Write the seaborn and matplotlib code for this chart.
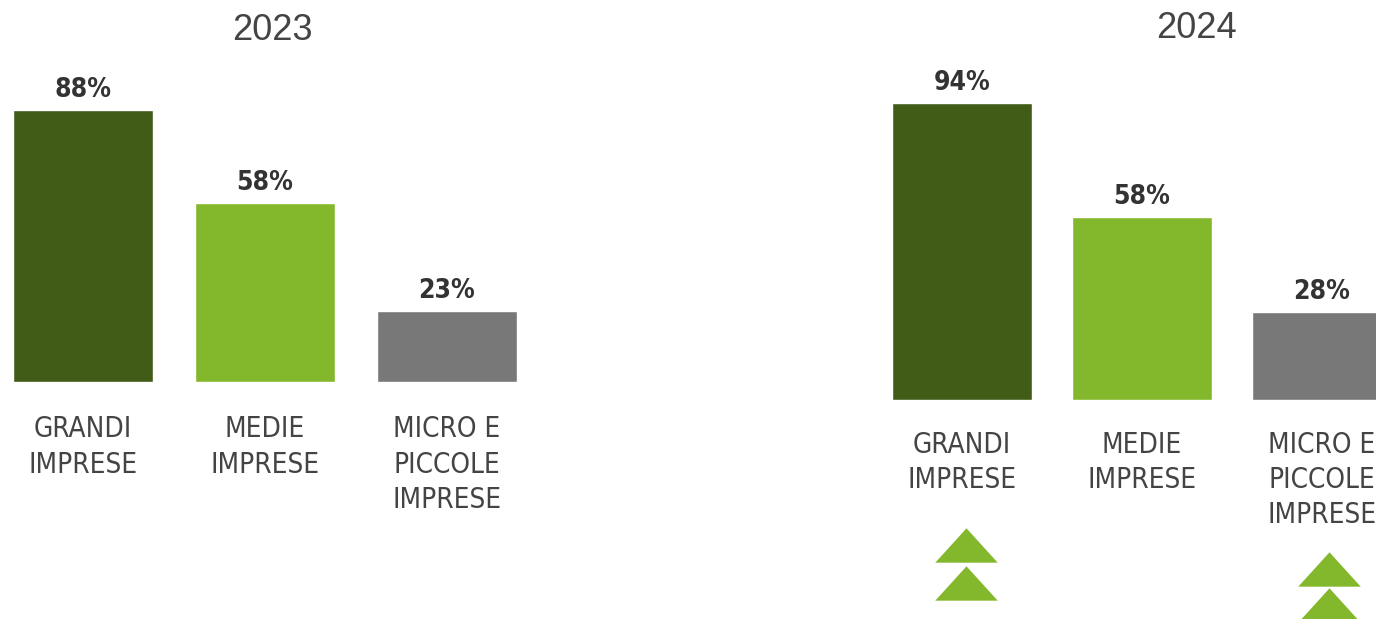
import numpy as np
import pandas as pd
import seaborn as sns
import matplotlib.pyplot as plt
from matplotlib.path import Path

sns.set_theme(style="white")
plt.rcParams["font.family"] = ["DejaVu Sans"]

# data
categories_2023 = ["GRANDI\nIMPRESE", "MEDIE\nIMPRESE", "MICRO E\nPICCOLE\nIMPRESE"]
values_2023 = [88, 58, 23]
categories_2024 = ["GRANDI\nIMPRESE", "MEDIE\nIMPRESE", "MICRO E\nPICCOLE\nIMPRESE"]
values_2024 = [94, 58, 28]
# categories with an increase marker (2024)
increase_2024 = ["GRANDI\nIMPRESE", "MICRO E\nPICCOLE\nIMPRESE"]

bar_colors = ["#415c16", "#84b82c", "#787878"]
text_color = "#444444"
value_color = "#333333"

W, H = 1376, 619
fig = plt.figure(figsize=(W / 100, H / 100), dpi=100)
ax1 = fig.add_axes([13 / W, (H - 382) / H, 504 / W, 309 / H])
ax2 = fig.add_axes([892 / W, (H - 400) / H, 500 / W, 316 / H])

# flat triangle marker
tri = Path([(-1, -0.55), (1, -0.55), (0, 0.55), (-1, -0.55)],
           [Path.MOVETO, Path.LINETO, Path.LINETO, Path.CLOSEPOLY])


def draw_panel(ax, cats, vals, width, pad):
    df = pd.DataFrame({"cat": cats, "val": vals})
    sns.barplot(data=df, x="cat", y="val", hue="cat", palette=bar_colors,
                legend=False, width=width, saturation=1, ax=ax)
    ax.set_ylim(0, 100)
    ax.set_xlim(-width / 2, 2 + width / 2)
    ax.set_xlabel("")
    ax.set_ylabel("")
    ax.set_yticks([])
    sns.despine(ax=ax, left=True, bottom=True)
    ax.tick_params(axis="x", length=0, pad=pad)
    for lab in ax.get_xticklabels():
        lab.set_fontsize(20)
        lab.set_color(text_color)
        lab.set_fontstretch("condensed")
        lab.set_linespacing(1.33)
    for cont in ax.containers:
        ax.bar_label(cont, labels=[f"{v:.0f}%" for v in cont.datavalues],
                     padding=5, fontsize=19, fontweight="bold",
                     fontstretch="condensed", color=value_color)


draw_panel(ax1, categories_2023, values_2023, 0.77, 24)
draw_panel(ax2, categories_2024, values_2024, 0.778, 22)

# increase markers (double arrows)
offsets = {"GRANDI\nIMPRESE": (-46, -58), "MICRO E\nPICCOLE\nIMPRESE": (-53.5, -65)}
x_shift = {"GRANDI\nIMPRESE": 0.02, "MICRO E\nPICCOLE\nIMPRESE": 0.04}
for cat in increase_2024:
    xi = categories_2024.index(cat) + x_shift[cat]
    for y in offsets[cat]:
        ax2.scatter([xi], [y], marker=tri, s=45 ** 2, color="#84b82c",
                    clip_on=False, linewidths=0)

fig.text(272 / W, 1 - 30 / H, "2023", ha="center", va="center", fontsize=26,
         color=text_color, family="Liberation Sans")
fig.text(1196 / W, 1 - 28 / H, "2024", ha="center", va="center", fontsize=26,
         color=text_color, family="Liberation Sans")

fig.savefig("out.png", dpi=100)
